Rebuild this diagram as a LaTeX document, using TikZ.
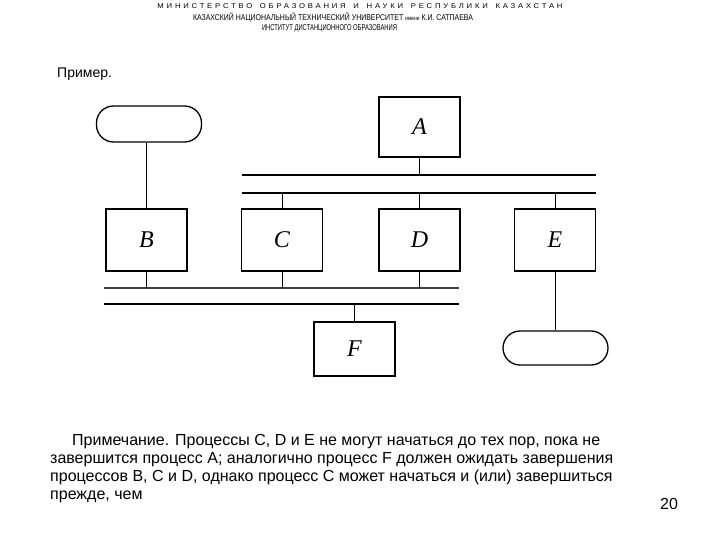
\documentclass[tikz,border=0pt]{standalone}
\usepackage{fontspec}
\setmainfont{Liberation Sans}
\newfontfamily\serifit{Liberation Serif}
\usepackage{graphicx}
\begin{document}
\begin{tikzpicture}[x=1pt,y=-1pt,
  proc/.style={draw, line width=1.3pt, minimum width=81pt, minimum height=62pt, inner sep=0pt, font=\serifit\itshape\fontsize{24}{24}\selectfont},
  term/.style={draw, line width=1.3pt, rounded corners=17pt, minimum width=105pt, minimum height=35pt, inner sep=0pt},
  link/.style={line width=1pt},
  thickbar/.style={line width=2.6pt},
  thinbar/.style={line width=1.5pt},
  body/.style={anchor=base west, inner sep=0pt, font=\fontsize{16}{18}\selectfont},
  head/.style={inner sep=0pt, anchor=base}]
\useasboundingbox (0,0) rectangle (720,540);
% header
\node[head] (h1) at (360,8.5) {\resizebox{405pt}{\height}{\fontsize{7}{7}\selectfont\addfontfeature{LetterSpace=36}МИНИСТЕРСТВО\quad ОБРАЗОВАНИЯ\quad И\quad НАУКИ\quad РЕСПУБЛИКИ\quad КАЗАХСТАН}};
\node[head] (h2) at (333,20.5) {\resizebox{280pt}{\height}{\fontsize{8.4}{8.4}\selectfont КАЗАХСКИЙ НАЦИОНАЛЬНЫЙ ТЕХНИЧЕСКИЙ УНИВЕРСИТЕТ {\fontsize{6}{6}\selectfont имени} К.И. САТПАЕВА}};
\node[head] (h3) at (329.5,31) {\resizebox{135pt}{\height}{\fontsize{8.4}{8.4}\selectfont ИНСТИТУТ ДИСТАНЦИОННОГО ОБРАЗОВАНИЯ}};
\node[anchor=base west, inner sep=0pt, font=\fontsize{14}{14}\selectfont] (ex) at (57,78) {Пример.};
% boxes
\node[proc, minimum height=60pt] (A) at (419.5,127) {A};
\node[proc] (B) at (146.5,240) {B};
\node[proc] (C) at (282,240) {C};
\node[proc] (D) at (419.5,240) {D};
\node[proc] (E) at (555,240) {E};
\node[proc, minimum height=54pt] (F) at (354.5,349) {F};
\node[term, minimum height=36pt] (T1) at (149,124) {};
\node[term, minimum height=34pt] (T2) at (555.5,348) {};
% bars
\coordinate (b1l) at (242,175); \coordinate (b1r) at (596,175);
\coordinate (b2l) at (242,193); \coordinate (b2r) at (596,193);
\coordinate (b3l) at (104,288); \coordinate (b3r) at (459,288);
\coordinate (b4l) at (104,304); \coordinate (b4r) at (459,304);
\draw[thickbar] (b1l) -- (b1r);
\draw[thinbar] (b2l) -- (b2r);
\draw[thickbar, line width=2.2pt, black!75] (b3l) -- (b3r);
\draw[thickbar, line width=2.2pt] (b4l) -- (b4r);
% connectors
\draw[link] (B.north) -- (B.north |- T1.south);
\draw[link] (A.south) -- (A.south |- b1l);
\draw[link] (C.north) -- (C.north |- b2l);
\draw[link] (D.north) -- (D.north |- b2l);
\draw[link] (E.north) -- (E.north |- b2l);
\draw[link] (B.south) -- (B.south |- b3l);
\draw[link] (C.south) -- (C.south |- b3l);
\draw[link] (D.south) -- (D.south |- b3l);
\draw[link] (F.north) -- (F.north |- b4l);
\draw[link] (E.south) -- (E.south |- T2.north);
% note
\node[body] (n1) at (72,445) {Примечание. Процессы С, D и Е не могут начаться до тех пор, пока не};
\node[body] (n2) at (50,463) {завершится процесс А; аналогично процесс F должен ожидать завершения};
\node[body] (n3) at (50,481) {процессов В, С и D, однако процесс С может начаться и (или) завершиться};
\node[body] (n4) at (50,499) {прежде, чем};
\node[body] (pg) at (660,509) {20};
\end{tikzpicture}
\end{document}
